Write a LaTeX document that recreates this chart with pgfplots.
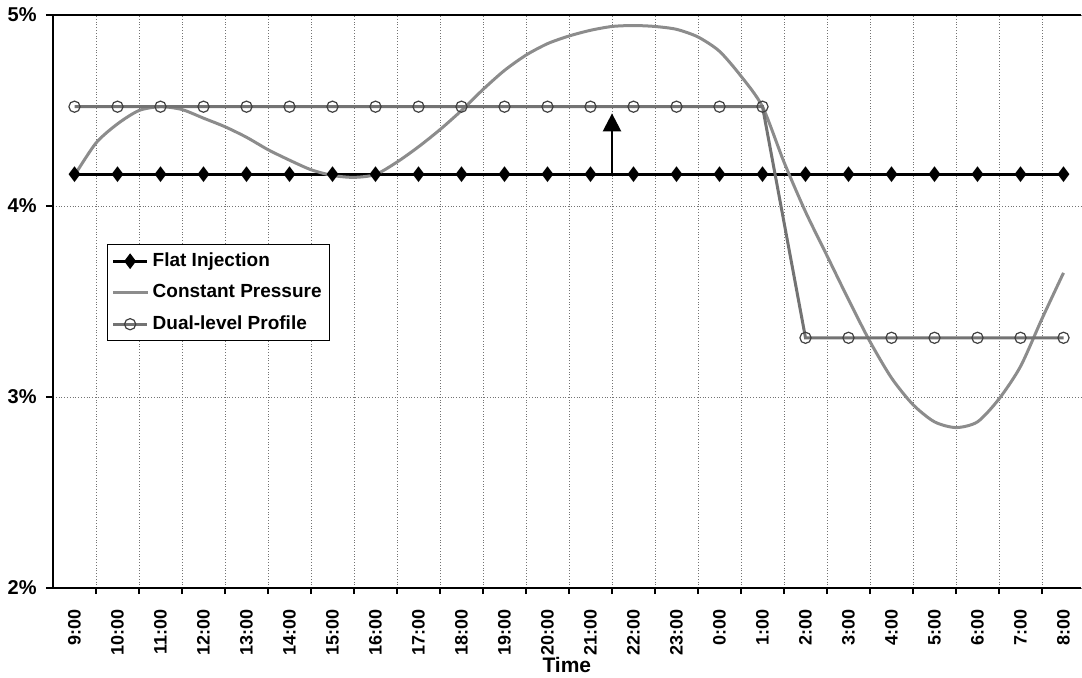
\documentclass[border=0pt]{standalone}
\usepackage{pgfplots}
\pgfplotsset{compat=1.18}
\usepackage{fontspec}
\setmainfont{Liberation Sans}
\usetikzlibrary{arrows.meta}

\begin{document}
\begin{tikzpicture}
\path[use as bounding box] (-26.5pt,294pt) rectangle (514.5pt,-44.5pt);
\begin{axis}[
  at={(0,0)}, anchor=south west,
  scale only axis, width=513.85pt, height=286.5pt,
  xmin=-0.5, xmax=23.4, ymin=2, ymax=5,
  axis x line*=bottom, axis y line*=left,
  axis line style={black, line width=0.8pt, -},
  tick align=outside,
  xtick={0,...,23},
  xticklabels={9:00,10:00,11:00,12:00,13:00,14:00,15:00,16:00,17:00,18:00,19:00,20:00,21:00,22:00,23:00,0:00,1:00,2:00,3:00,4:00,5:00,6:00,7:00,8:00},
  major x tick style={draw=none},
  x tick label style={rotate=90, anchor=east, inner sep=0pt, font=\bfseries\fontsize{9}{10}\selectfont},
  xticklabel shift=7pt,
  minor xtick={0.5,1.5,...,22.5},
  xminorgrids,
  minor tick length=3pt,
  minor x tick style={black, line width=0.6pt},
  minor grid style={densely dotted, black!55, line width=0.5pt},
  ytick={2,3,4,5},
  yticklabels={2\%,3\%,4\%,5\%},
  major tick length=3.5pt,
  major y tick style={black, line width=0.6pt},
  y tick label style={anchor=east, inner sep=0pt, font=\bfseries\fontsize{10}{11}\selectfont},
  yticklabel shift=4.5pt,
  ymajorgrids,
  major grid style={densely dotted, black!55, line width=0.5pt},
  xlabel={Time},
  xlabel style={at={(axis description cs:0.5,0)}, anchor=north, inner sep=0pt, yshift=-34.5pt, font=\bfseries\fontsize{10.5}{12}\selectfont},
  legend style={at={(0.0525,0.600)}, anchor=north west, draw=black, line width=0.6pt, fill=white,
    font=\bfseries\fontsize{9.5}{11}\selectfont, row sep=3.5pt, inner xsep=2pt, inner ysep=2pt,
    cells={anchor=west}},
  legend cell align=left,
  after end axis/.code={\draw[black, line width=0.8pt] (rel axis cs:0,1) -- (rel axis cs:1,1);},
]
\addplot[black, line width=1.5pt, mark=diamond*, mark size=2.7pt, mark options={solid, fill=black}] coordinates {
(0,4.1667)(1,4.1667)(2,4.1667)(3,4.1667)(4,4.1667)(5,4.1667)(6,4.1667)(7,4.1667)
(8,4.1667)(9,4.1667)(10,4.1667)(11,4.1667)(12,4.1667)(13,4.1667)(14,4.1667)(15,4.1667)
(16,4.1667)(17,4.1667)(18,4.1667)(19,4.1667)(20,4.1667)(21,4.1667)(22,4.1667)(23,4.1667)};
\addlegendentry{Flat Injection}
\addplot[black!45, line width=1.5pt, smooth, tension=0.45, mark=none] coordinates {
(0,4.16)(0.5,4.33)(1,4.43)(1.5,4.50)(2,4.52)(2.5,4.505)(3,4.46)(3.5,4.415)(4,4.36)
(4.5,4.295)(5,4.24)(5.5,4.19)(6,4.16)(6.5,4.15)(7,4.165)(7.5,4.23)(8,4.31)(8.5,4.40)
(9,4.50)(9.5,4.61)(10,4.71)(10.5,4.79)(11,4.85)(11.5,4.89)(12,4.92)(12.5,4.94)
(13,4.945)(13.5,4.94)(14,4.925)(14.5,4.885)(15,4.81)(15.5,4.68)(16,4.52)(16.5,4.23)
(17,3.97)(17.5,3.74)(18,3.51)(18.5,3.29)(19,3.10)(19.5,2.96)(20,2.87)(20.5,2.84)
(21,2.87)(21.5,2.99)(22,3.16)(22.5,3.41)(23,3.65)};
\addlegendentry{Constant Pressure}
\addplot[black!55, line width=1.5pt, mark=o, mark size=2.8pt, mark options={solid, draw=black!75, line width=0.6pt}] coordinates {
(0,4.52)(1,4.52)(2,4.52)(3,4.52)(4,4.52)(5,4.52)(6,4.52)(7,4.52)
(8,4.52)(9,4.52)(10,4.52)(11,4.52)(12,4.52)(13,4.52)(14,4.52)(15,4.52)
(16,4.52)(17,3.31)(18,3.31)(19,3.31)(20,3.31)(21,3.31)(22,3.31)(23,3.31)};
\addlegendentry{Dual-level Profile}
\draw[-{Triangle[width=9pt,length=9pt]}, black, line width=1.2pt] (axis cs:12.5,4.1667) -- (axis cs:12.5,4.485);
\end{axis}
\end{tikzpicture}
\end{document}
